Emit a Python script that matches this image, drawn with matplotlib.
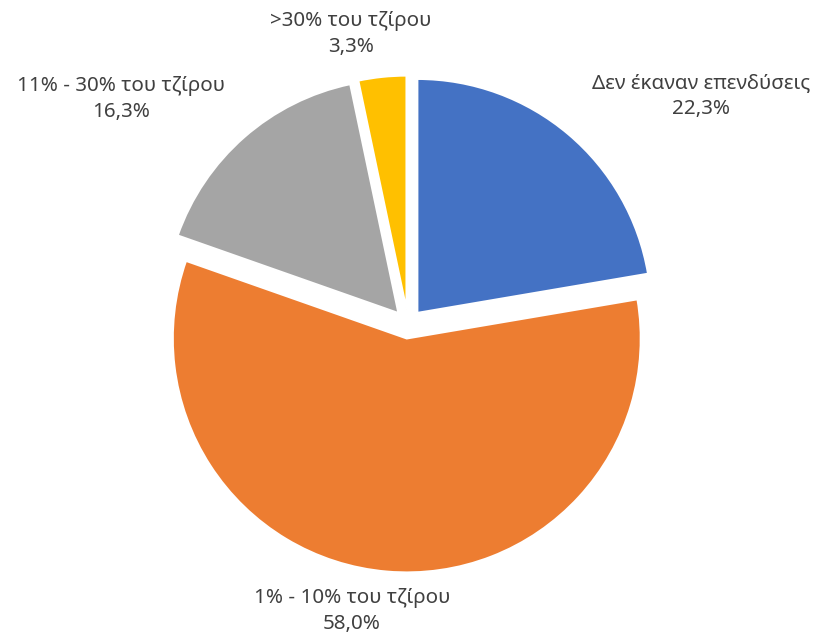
import matplotlib
matplotlib.use("Agg")
import matplotlib.pyplot as plt

categories = ["Δεν έκαναν επενδύσεις", "1% - 10% του τζίρου", "11% - 30% του τζίρου", ">30% του τζίρου"]
values = [22.3, 58.0, 16.3, 3.3]
value_labels = ["22,3%", "58,0%", "16,3%", "3,3%"]
colors = ["#4472C4", "#ED7D31", "#A5A5A5", "#FFC000"]

W, H = 819, 634
fig = plt.figure(figsize=(W / 100, H / 100), dpi=100)
ax = fig.add_axes([0, 0, 1, 1])

radius = 234
center = (408, H - 324)
ax.pie(values, colors=colors, startangle=90, counterclock=False,
       radius=radius, center=center, explode=[14.5] * len(values),
       wedgeprops=dict(edgecolor="white", linewidth=1.5), frame=True)
ax.set_xlim(0, W)
ax.set_ylim(0, H)
ax.set_aspect("equal")
ax.axis("off")

label_pos = [(701, 96), (352, 611), (121, 99), (351, 34)]
for cat, vl, (x, y) in zip(categories, value_labels, label_pos):
    ax.text(x, H - y, f"{cat}\n{vl}", ha="center", va="center",
            fontsize=14.8, color="#404040", family=["Noto Sans", "DejaVu Sans"],
            linespacing=1.45)

fig.savefig("out.png", dpi=100)
